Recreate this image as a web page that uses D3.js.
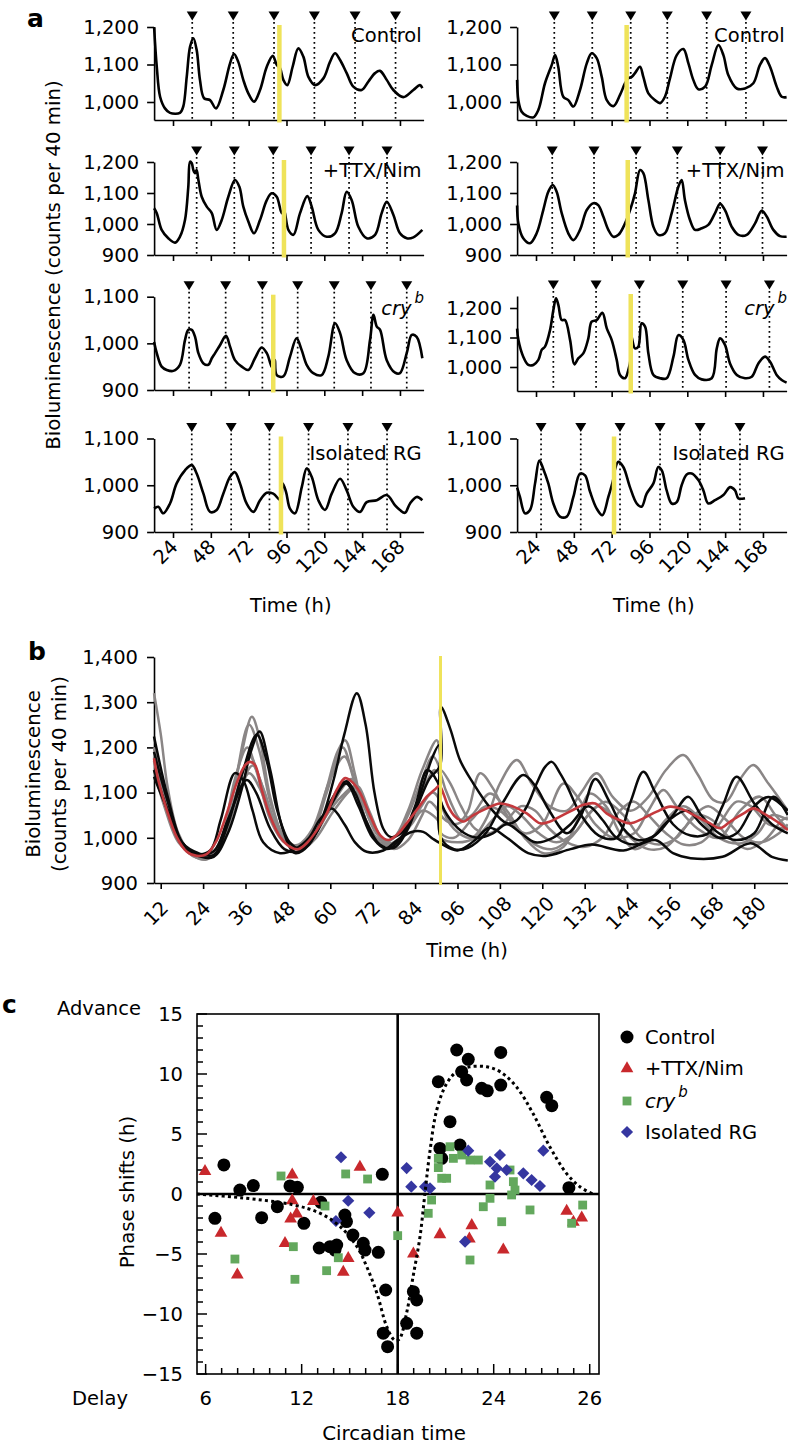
<!DOCTYPE html>
<html><head><meta charset="utf-8">
<script src="https://cdn.jsdelivr.net/npm/d3@7"></script>
<style>body{margin:0;background:#fff}svg{display:block}text{font-family:"DejaVu Sans",sans-serif;fill:#000}</style>
</head><body>
<svg id="fig" width="788" height="1445"></svg>
<script>
// ================= DATA =================
// Panel a: time axis
const timeDomainA = [12, 183];
const timeTicksA = [24, 48, 72, 96, 120, 144, 168];
// y tick labels per row
const yTicksRow1 = [1000, 1100, 1200];
const yTicksRow2 = [900, 1000, 1100, 1200];
const yTicksRow3L = [900, 1000, 1100];
const yTicksRow3R = [1000, 1100, 1200];
const yTicksRow4 = [900, 1000, 1100];
const rowLabels = ["Control", "+TTX/Nim", "cry", "Isolated RG"];

// Panel a traces [time h, counts]
const aL1 = [[12,1200],[13.7,1094],[15.8,1014],[18.9,983],[22.1,971],[28.4,971],[30.5,988],[32.7,1067],[34.8,1147],[36.9,1170],[39,1139],[41.1,1059],[43.7,1010],[47.5,1005],[51.3,983],[55.9,1032],[60.2,1103],[62.7,1128],[65.4,1107],[68.6,1059],[71.8,1023],[75.4,1001],[79.2,1032],[83.5,1094],[87.3,1123],[89.8,1099],[91.9,1090],[94,1059],[96.5,1045],[99.9,1094],[103.5,1143],[106.7,1121],[109.9,1067],[114.1,1045],[119.4,1063],[123.6,1107],[126.8,1130],[130,1112],[134.2,1077],[138.4,1041],[143.7,1032],[147.9,1054],[152.2,1077],[155.3,1083],[159.6,1059],[163.8,1032],[170.1,1013],[176.5,1032],[180.7,1045],[182.2,1037]];
const aL2 = [[12,1051],[13.7,1035],[16.8,981],[21,954],[25.3,940],[28.4,959],[31.6,1013],[33.7,1120],[34.8,1201],[35.9,1196],[36.9,1174],[38,1164],[39,1174],[40.1,1142],[42.2,1088],[45.4,1056],[48.6,1035],[51.7,981],[54.9,1013],[59.1,1088],[63.3,1142],[66.1,1120],[68.6,1056],[71.8,1008],[75.4,970],[79.2,1013],[83.5,1077],[86.6,1099],[89.8,1088],[93,1035],[94.4,1045],[97.2,981],[100.4,965],[104.6,1035],[109.2,1090],[112,1056],[116.2,981],[121.5,959],[126.8,970],[131,1035],[134.2,1104],[137.4,1077],[141.6,991],[146.9,954],[152.2,965],[156.4,1035],[159.6,1072],[163.8,1030],[168,970],[172.3,954],[176.5,957],[182.2,981]];
const aL3 = [[12,1003],[13.7,979],[16.8,950],[20,943],[24.2,941],[28.4,954],[31.6,1007],[33.7,1029],[35.9,1029],[38,1014],[40.1,979],[43.3,957],[46.4,954],[48.6,968],[50.7,979],[53.8,996],[57.6,1016],[60.2,993],[63.3,964],[67.6,950],[71.8,943],[76,968],[80.2,991],[83.5,979],[86.6,950],[88.1,946],[88.7,964],[89.8,932],[94,929],[98.2,971],[102.4,1011],[105.6,986],[108.8,954],[113,936],[118.3,932],[122.5,971],[126.8,1043],[130,1022],[134.2,964],[139.5,936],[144.8,936],[149,1007],[151.2,1061],[153.3,1036],[155.4,1029],[159.6,964],[164.9,937],[168,936],[172.3,979],[175.5,1018],[178.6,1014],[182.2,968]];
const aL4 = [[12,950],[14.7,954],[17.8,940],[22.1,961],[26.3,1004],[31.6,1032],[35.9,1043],[39,1025],[43.3,982],[47.5,943],[51.7,947],[55.9,982],[60.2,1018],[63.3,1028],[66.5,1004],[70.7,961],[75,943],[79.2,968],[83.5,984],[87.6,982],[92.3,968],[93.5,1004],[95.7,986],[98.2,950],[101.4,940],[105.7,996],[108.8,1036],[112,1018],[116.2,968],[120.4,947],[124.7,982],[130,1014],[134.2,989],[138.4,954],[142.7,943],[146.9,964],[153.3,968],[159.6,979],[164.9,957],[168,947],[171.2,941],[174.4,961],[178.6,975],[182.2,968]];
const aR1 = [[12,1059],[12.8,1005],[14.9,974],[18.1,963],[22.3,959],[25.5,979],[29.7,1050],[34,1099],[36.1,1125],[38.1,1094],[41.3,1014],[44.5,1005],[47.7,988],[51.9,1032],[56.2,1103],[59.3,1130],[62.5,1117],[65.7,1067],[68.9,1005],[73.1,989],[77.3,1019],[80.5,1050],[82.6,1063],[84.7,1067],[86.8,1077],[90,1094],[92.1,1067],[95.3,1023],[99.5,1005],[102.7,997],[105.8,1014],[109,1063],[113.3,1125],[117.5,1141],[120.7,1103],[123.8,1059],[127,1034],[131.3,1041],[135.5,1099],[139.7,1152],[142.9,1125],[146,1072],[151.4,1036],[156.6,1036],[161.9,1050],[166.1,1099],[169.3,1117],[172.5,1094],[176.7,1041],[179.9,1014],[183,1013]];
const aR2 = [[12,1060],[12.8,1002],[15.9,954],[20.2,938],[24.4,970],[28.6,1045],[31.8,1104],[34.6,1126],[37.1,1104],[40.3,1035],[44.5,970],[47.7,948],[51.9,981],[56.2,1045],[60.4,1067],[63.5,1061],[66.7,1024],[69.9,981],[73.1,959],[76.3,965],[80.5,1002],[84.1,1051],[86.8,1099],[90,1174],[92.1,1164],[95.3,1077],[98.5,991],[101.6,965],[105.8,970],[110.1,1035],[114.3,1120],[116.4,1142],[118.5,1077],[121.7,1013],[124.9,981],[129.1,986],[133.3,997],[137.6,1035],[140.8,1065],[143.9,1045],[148.2,991],[152.4,965],[157.7,965],[163,1002],[167.2,1043],[170.4,1024],[174.6,981],[178.8,961],[183,959]];
const aR3 = [[12,1130],[12.8,1092],[15.9,1035],[19.1,1007],[22.3,1007],[25.5,1024],[27.6,1058],[29.7,1069],[32.9,1125],[35,1193],[36.7,1233],[38.2,1210],[40.3,1159],[42.4,1159],[45.6,1092],[48.3,1009],[50.8,1029],[54,1046],[57.2,1097],[59.3,1154],[62.5,1159],[66.1,1184],[68.9,1131],[72,1092],[75.2,1024],[77.3,973],[80.5,962],[82.6,990],[84,1026],[84.3,1108],[86.8,1063],[88.9,1069],[91,1148],[93.2,1137],[95.3,1046],[98.5,973],[102.7,962],[106.9,962],[111.2,1035],[114.3,1108],[117.5,1092],[120.7,1024],[124.9,973],[129.1,958],[135.5,962],[138.7,1063],[140.8,1097],[143.9,1075],[147.1,1012],[151.4,973],[156.6,962],[160.9,967],[165.1,1012],[169.3,1035],[172.5,1018],[176.7,973],[179.9,956],[183,947]];
const aR4 = [[12,995],[13.8,975],[17,940],[20.2,947],[23.4,1004],[26.1,1053],[28.6,1035],[31.8,1004],[35,961],[39.2,933],[43.5,933],[47.7,975],[51.9,1025],[55.1,1021],[58.3,986],[62.5,950],[66.1,936],[69.9,975],[73.1,1014],[73.8,1030],[76.2,1050],[79.4,1039],[83.6,996],[87.9,961],[91,954],[94.2,982],[98.5,1004],[101.6,1039],[103.8,1032],[106.9,989],[110.1,961],[113.3,964],[116.4,1000],[119.6,1023],[122.8,1025],[127,1011],[130.2,989],[133.3,961],[137.6,968],[142.9,979],[147.1,996],[150.3,989],[152.4,972],[156.6,972]];
// Peak markers (h)
const mkL1 = [36.2, 62.2, 88.1, 113.7, 139.5, 165.2];
const mkL2 = [39, 62.9, 87.6, 111.6, 135.7, 159.8];
const mkL3 = [34.2, 57.4, 80.7, 103.1, 126.3, 149.6, 172.3];
const mkL4 = [35.9, 60.9, 85.2, 110, 135, 159.8];
const mkR1 = [35.6, 59.7, 84.1, 107.3, 132.3, 157.2];
const mkR2 = [34.3, 60.8, 87.5, 113.7, 140.8, 167.7];
const mkR3 = [35, 62.1, 89.6, 117.1, 144.6, 172.1];
const mkR4 = [27.2, 52.4, 77.3, 102.7, 128.1, 153.4];
// Light pulse times (h)
const pulseL = [91.5, 94.4, 87.6, 92.5];
const pulseR = [81.5, 82.2, 84.1, 73.5];

// Panel b
const timeDomainB = [10.1, 189.55];
const timeTicksB = [12, 24, 36, 48, 60, 72, 84, 96, 108, 120, 132, 144, 156, 168, 180];
const yTicksB = [900, 1000, 1100, 1200, 1300, 1400];
const pulseB = 91.2;
const traceB1 = [[10.1,1224],[14,1090],[18,990],[22,962],[27,958],[31,1010],[35,1110],[37.5,1190],[40,1235],[43,1150],[46.5,1020],[50,966],[54,985],[58,1050],[61,1130],[64,1230],[67.5,1320],[70,1250],[72.5,1100],[75,1020],[77,1002],[80,1010],[84,1060],[88,1130],[91.1,1160],[91.3,1290],[94,1240],[96.7,1172],[100.5,1120],[105,1069],[110,1032],[112.8,1039],[115.6,1069],[118.4,1120],[120.8,1157],[122.7,1168],[125,1143],[127,1115],[131,1050],[136,1005],[141,1000],[145,1080],[148.6,1146],[152,1100],[157,1030],[162,1005],[167,1010],[171,1070],[175,1135],[180,1076],[185,1030],[189.5,1010]];
const traceB2 = [[10.1,1135],[14,1060],[18,990],[22,965],[26,972],[29,1040],[33,1143],[35.5,1125],[38,1060],[41,990],[45.8,966],[50,975],[54,1000],[57,1040],[60.4,1065],[64,1030],[67,990],[70.3,969],[75,972],[79,995],[83,1013],[86.3,1013],[89,998],[91.1,988],[96,972],[101,995],[105,1022],[110,1000],[116,966],[121,960],[128,975],[134,985],[143,972],[152,995],[157,966],[162,955],[171,958],[179,988],[185,958],[189.5,950]];
const traceB3 = [[10.1,1190],[14,1080],[18,990],[23,965],[27,962],[31,1030],[35,1140],[39.2,1228],[42,1170],[45,1060],[48.5,990],[52,975],[56,1010],[60,1080],[64.5,1125],[67,1100],[70,1040],[74,985],[78,978],[82,1020],[86,1110],[89,1180],[90.8,1205],[91.3,1000],[95,975],[99,978],[104,1010],[109,1080],[114.6,1139],[118,1115],[122,1060],[127,1010],[131,1050],[135,1130],[139,1080],[143,1020],[147,995],[152,1006],[157,1050],[161.3,1091],[165,1050],[170,1010],[175,995],[180,1010],[185.4,1091],[189.5,1050]];
const traceB4 = [[10.1,1150],[14,1060],[18,985],[22,965],[27,970],[31,1040],[36.3,1128],[39,1100],[43,1020],[47,975],[51,970],[55,1000],[60,1070],[64.5,1120],[68,1070],[72,1000],[76,975],[80,1000],[84,1070],[87.5,1150],[91.1,1110],[91.3,1080],[94,1040],[98,1010],[102,1000],[106,1010],[110,1030],[114,1010],[118,990],[123,1000],[128,1030],[133,1070],[137,1040],[141,1000],[146,985],[151,1000],[156,1040],[161,1060],[165,1030],[170,1000],[175,1010],[180,1070],[184,1090],[189.5,1060]];
const traceG1 = [[10.1,1320],[12,1230],[14,1110],[17,1010],[21,962],[25,952],[29,985],[32,1080],[35,1190],[37.8,1268],[40,1220],[43,1090],[47,1000],[51,980],[55,1010],[59,1110],[62,1190],[64.2,1216],[67,1140],[70,1040],[74,990],[78,1000],[82,1060],[86,1150],[90.1,1216],[91.1,1180],[91.3,1080],[95,1020],[100,1000],[104,1040],[108,1120],[112.8,1172],[117,1120],[122,1070],[127,1060],[131,1100],[135.4,1143],[140,1090],[145,1060],[150,1090],[155,1150],[159.9,1183],[164,1140],[168.4,1084],[172,1080],[176,1130],[179.7,1161],[184,1120],[189.5,1060]];
const traceG2 = [[10.1,1200],[13,1100],[17,995],[21,965],[25,955],[29,990],[33,1120],[37,1250],[40,1190],[43,1080],[47,1000],[51,982],[55,1010],[59,1100],[63.5,1200],[66,1150],[70,1040],[74,995],[78,1000],[82,1050],[86,1130],[89,1180],[91.1,1150],[91.3,1140],[94,1080],[97,1040],[99,1060],[102.4,1143],[106,1110],[110,1050],[115,1010],[120,1030],[126,1120],[130,1090],[135,1030],[140,1000],[146,1010],[150,1060],[154.3,1106],[158,1070],[164,1020],[170,1000],[176,1060],[181.6,1091],[186,1050],[189.5,1020]];
const traceG3 = [[10.1,1150],[13,1070],[17,990],[21,965],[25,960],[29,990],[33,1090],[37.3,1179],[40,1130],[44,1040],[48,985],[52,980],[56,1010],[61,1080],[66,1130],[69,1080],[73,1010],[77,985],[81,1010],[85,1060],[89,1100],[91.1,1080],[91.3,1050],[95,1030],[100,1050],[105.2,1098],[110,1060],[115,1000],[120.3,966],[126,980],[130,1040],[133.5,1098],[138,1070],[142,1010],[146,975],[150,990],[155,1040],[160,1070],[165,1040],[170,1000],[176.4,988],[181,1010],[185,1050],[189.5,1040]];
const traceG4 = [[10.1,1170],[13,1080],[17,995],[21,968],[25,962],[29,985],[33,1070],[37,1143],[40,1110],[44,1030],[48,985],[52,975],[56,1000],[61,1060],[67,1110],[70,1070],[74,1000],[78,975],[82,995],[86,1050],[88,1080],[91.1,1050],[91.3,1010],[95,1000],[100,1040],[104,1070],[108,1060],[113,1020],[118,985],[123,975],[128,1000],[133,1050],[136,1070],[141,1040],[145,1000],[150,975],[155,980],[160,1020],[164,1050],[168,1040],[173,1000],[178,975],[183,995],[188,1040],[189.5,1045]];
const traceG5 = [[10.1,1180],[13,1090],[17,1000],[21,965],[25,958],[29,990],[34,1100],[38,1160],[41,1110],[45,1020],[49,980],[53,985],[58,1040],[63,1090],[67.5,1115],[71,1060],[75,995],[79,990],[83,1040],[87,1120],[89.5,1150],[91.1,1140],[91.3,1150],[94,1120],[97,1070],[101,1020],[105,1010],[109,1030],[114,1070],[118,1060],[122,1020],[127,990],[132,980],[137,1000],[142,1060],[146,1080],[150,1050],[155,1010],[160,985],[165,990],[170,1030],[175,1080],[179,1070],[184,1030],[189.5,1020]];
const traceG6 = [[10.1,1200],[13,1100],[17,1000],[21,960],[25,955],[29,995],[33,1130],[36.5,1200],[39,1150],[43,1040],[47,990],[51,985],[55,1020],[60,1130],[64,1180],[67,1120],[71,1020],[75,985],[79,995],[83,1030],[86,1060],[89,1050],[91.1,1030],[91.3,1000],[96,990],[101,1000],[106,1040],[110,1070],[114,1050],[119,1010],[124,990],[129,1010],[134,1060],[138,1080],[143,1050],[148,1000],[153,985],[158,1000],[163,1050],[167,1070],[172,1040],[177,1000],[182,990],[187,1010],[189.5,1030]];
const traceMean = [[10.1,1176],[11.3,1128],[13.7,1062],[16.5,1002],[19.4,969],[22.2,960],[25,964],[27.9,995],[30.7,1054],[33.5,1121],[35.9,1161],[37.3,1168],[38.7,1161],[40.6,1106],[43,1047],[45.8,1002],[48.6,980],[51,975],[53.3,988],[56.2,1017],[59,1054],[61.8,1106],[64.2,1132],[66.1,1124],[68.4,1100],[71.2,1050],[74.1,1006],[76.4,995],[78.8,1006],[81.6,1032],[84.5,1062],[87.3,1091],[89.6,1107],[90.9,1115],[92,1098],[93.4,1069],[95.3,1047],[97.7,1036],[100.5,1050],[104.3,1065],[108,1076],[111.8,1069],[115.6,1054],[119.4,1032],[122.2,1036],[125,1047],[128.8,1062],[131.6,1073],[135,1076],[138.2,1054],[142,1039],[144.8,1032],[148.6,1043],[152.4,1058],[156.2,1069],[160,1062],[163.7,1047],[167.5,1032],[170.3,1021],[173.2,1036],[177,1054],[179.8,1065],[182.6,1054],[186.4,1036],[189.5,1017]];
const blackTraces = [traceB1, traceB2, traceB3, traceB4];
const grayTraces = [traceG1, traceG2, traceG3, traceG4, traceG5, traceG6];

// Panel c: [circadian time, phase shift h]
const ctDomain = [5.46, 30.58];
const ctTicks = [6, 12, 18, 24, 30];
const ctTickLabels = ["6", "12", "18", "24", "26"];
const psTicks = [-15, -10, -5, 0, 5, 10, 15];
const ctrlPts = [[6.58,-2.03],[7.14,2.42],[8.14,0.33],[8.98,0.7],[9.5,-1.97],[10.48,-1.06],[11.27,0.67],[11.73,0.56],[12.14,-2.44],[13.2,-0.69],[13.1,-4.5],[13.77,-4.39],[14.19,-4.25],[14.08,-4.67],[14.7,-1.75],[14.8,-2.3],[15.2,-3.42],[15.85,-4.11],[15.96,-4.67],[16.79,-4.86],[17.04,1.64],[17.25,-8],[17.1,-11.6],[17.37,-12.72],[18.56,-10.78],[19.19,-11.6],[18.98,-8.14],[19.19,-8.83],[20.64,3.8],[20.75,2.97],[21.89,4.08],[21.27,6.03],[20.54,9.36],[21.69,12],[22.41,11.22],[22.0,10.19],[22.31,9.5],[23.25,8.81],[23.6,8.6],[24.44,9.08],[24.44,11.8],[27.31,8.06],[27.63,7.36],[28.7,0.53]];
const ttxPts = [[5.96,1.94],[6.96,-3.22],[7.98,-6.69],[11.41,1.64],[11.41,-0.5],[11.31,-2.03],[11.69,-1.61],[10.96,-4.06],[12.73,-0.56],[15.64,2.28],[14.91,-5.31],[14.6,-6.47],[18.0,-1.53],[18.98,-4.94],[20.64,-3.33],[22.63,-2.58],[22.48,-3.69],[24.6,-4.61],[28.56,-1.39],[28.98,-2.3],[29.5,-1.94]];
const cryPts = [[10.71,1.5],[14.75,1.67],[16.12,1.25],[13.46,-1.0],[7.83,-5.42],[11.48,-4.39],[11.58,-7.11],[13.56,-6.39],[14.29,-5.31],[18.0,-3.47],[20.12,-0.5],[19.91,-1.61],[20.54,2.97],[20.54,2.2],[20.75,1.31],[21.06,1.31],[21.27,3.94],[21.48,2.97],[22.0,3.25],[22.52,2.83],[23.04,2.83],[23.77,0.75],[23.77,-0.36],[23.35,-1.06],[24.5,-2.31],[22.52,-5.5],[25.02,2.0],[25.23,1.03],[25.33,0.33],[25.12,-0.08],[26.27,-1.33],[28.87,-2.44],[29.56,-0.92]];
const rgPts = [[14.46,3.06],[14.91,-0.56],[14.14,-2.25],[16.23,-1.56],[18.56,2.16],[18.85,0.61],[19.71,0.61],[20.02,0.47],[22.21,-3.97],[22.41,3.61],[23.77,2.69],[24.39,3.25],[24.19,2.14],[24.08,1.44],[24.81,2.0],[25.85,1.72],[26.37,1.17],[26.89,0.67],[27.1,3.61]];
const prcFit = [[5.46,0],[8.14,-0.3],[11.46,-0.9],[13.14,-1.6],[14.39,-2.7],[15.46,-4.4],[16.08,-6.1],[16.71,-8.3],[17.33,-11.1],[17.83,-12.2],[18.1,-12.1],[18.56,-9.9],[18.96,-6.9],[19.39,-3.6],[19.7,0],[20.0,3.4],[20.44,7],[21.06,9.2],[21.69,10.2],[22.5,10.6],[23.56,10.6],[24.39,10.2],[25.44,8.9],[26.46,6.7],[27.52,3.9],[28.56,1.7],[29.39,0.6],[30.2,0]];
const legendLabels = ["Control", "+TTX/Nim", "cry", "Isolated RG"];

// ================= DRAW =================
const svg = d3.select("#fig");
const FS = 19.5;
const YEL = "#efe35a";

function styleAxis(sel) {
  sel.attr("font-family", null).attr("font-size", null);
  sel.select(".domain").attr("stroke", "#000").attr("stroke-width", 1.6);
  sel.selectAll(".tick line").attr("stroke", "#000").attr("stroke-width", 1.6);
  sel.selectAll(".tick text").attr("font-size", FS).attr("fill", "#000");
}

// Panel a
const panelsA = [
  {col:0, top:27, bottom:120, dom:[952,1200], ticks:yTicksRow1, data:aL1, mk:mkL1, pulse:pulseL[0], label:0, ly:41.5},
  {col:0, top:162, bottom:255, dom:[900,1200], ticks:yTicksRow2, data:aL2, mk:mkL2, pulse:pulseL[1], label:1, ly:177},
  {col:0, top:296.7, bottom:390, dom:[900,1100], ticks:yTicksRow3L, data:aL3, mk:mkL3, pulse:pulseL[2], label:2, ly:315},
  {col:0, top:438.5, bottom:532, dom:[900,1100], ticks:yTicksRow4, data:aL4, mk:mkL4, pulse:pulseL[3], label:3, ly:460, last:true},
  {col:1, top:27, bottom:120, dom:[952,1200], ticks:yTicksRow1, data:aR1, mk:mkR1, pulse:pulseR[0], label:0, ly:41.5},
  {col:1, top:162, bottom:255, dom:[900,1200], ticks:yTicksRow2, data:aR2, mk:mkR2, pulse:pulseR[1], label:1, ly:177},
  {col:1, top:296, bottom:391, dom:[918.6,1240.7], ticks:yTicksRow3R, data:aR3, mk:mkR3, pulse:pulseR[2], label:2, ly:315},
  {col:1, top:438.5, bottom:532, dom:[900,1100], ticks:yTicksRow4, data:aR4, mk:mkR4, pulse:pulseR[3], label:3, ly:460, last:true},
];
panelsA.forEach(p => {
  const x = d3.scaleLinear().domain(timeDomainA).range(p.col === 0 ? [154.1, 423.6] : [517.1, 786.6]);
  const y = d3.scaleLinear().domain(p.dom).range([p.bottom, p.top]);
  const g = svg.append("g");
  const mY = p.top - 11;
  g.selectAll("line.dl").data(p.mk).join("line")
    .attr("x1", d => x(d)).attr("x2", d => x(d)).attr("y1", mY + 6).attr("y2", p.bottom)
    .attr("stroke", "#000").attr("stroke-width", 1.7).attr("stroke-dasharray", "1.7,3.3");
  g.selectAll("path.tri").data(p.mk).join("path")
    .attr("d", d => `M${x(d)-5.5},${mY-4.5}L${x(d)+5.5},${mY-4.5}L${x(d)},${mY+4.5}Z`).attr("fill", "#000");
  const ax = g.append("g").attr("transform", `translate(${x.range()[0]},0)`)
    .call(d3.axisLeft(y).tickValues(p.ticks).tickFormat(d3.format(",")).tickSize(7).tickSizeOuter(0).tickPadding(8));
  styleAxis(ax);
  const bx = g.append("g").attr("transform", `translate(0,${p.bottom})`)
    .call(d3.axisBottom(x).tickValues(timeTicksA).tickFormat("").tickSize(6).tickSizeOuter(0));
  styleAxis(bx);
  g.append("path").datum(p.data)
    .attr("d", d3.line().x(d => x(d[0])).y(d => y(d[1])).curve(d3.curveCatmullRom.alpha(0.5)))
    .attr("fill", "none").attr("stroke", "#000").attr("stroke-width", 2.6).attr("stroke-linejoin", "round");
  g.append("line").attr("x1", x(p.pulse)).attr("x2", x(p.pulse)).attr("y1", p.top - 2).attr("y2", p.bottom + 2.5)
    .attr("stroke", YEL).attr("stroke-width", 4.5);
  const xr = x.range()[1];
  if (p.label === 2) {
    const t = g.append("text").attr("x", xr + 0.5).attr("y", p.ly).attr("font-size", FS).attr("text-anchor", "end").attr("font-style", "italic");
    t.append("tspan").text(rowLabels[2]);
    t.append("tspan").attr("font-size", 15).attr("dy", -12).attr("dx", 3).text("b");
  } else {
    g.append("text").attr("x", xr - 2).attr("y", p.ly).attr("font-size", FS).attr("text-anchor", "end").text(rowLabels[p.label]);
  }
  if (p.last) {
    g.selectAll("text.xl").data(timeTicksA).join("text")
      .attr("transform", d => `translate(${x(d)+6},548) rotate(-45)`)
      .attr("text-anchor", "end").attr("font-size", FS).text(d => d);
    g.append("text").attr("x", (x.range()[0] + x.range()[1]) / 2 + 2).attr("y", 612).attr("text-anchor", "middle").attr("font-size", FS).text("Time (h)");
  }
});
svg.append("text").attr("transform", "translate(60,265) rotate(-90)").attr("text-anchor", "middle").attr("font-size", 19.8).text("Bioluminescence (counts per 40 min)");
svg.append("text").attr("x", 27).attr("y", 27).attr("font-size", 25).attr("font-weight", "bold").text("a");

// Panel b
{
  const x = d3.scaleLinear().domain(timeDomainB).range([154, 788]);
  const y = d3.scaleLinear().domain([900, 1400]).range([883, 657]);
  const g = svg.append("g");
  const ax = g.append("g").attr("transform", "translate(154,0)")
    .call(d3.axisLeft(y).tickValues(yTicksB).tickFormat(d3.format(",")).tickSize(7).tickSizeOuter(0).tickPadding(9));
  styleAxis(ax);
  const bx = g.append("g").attr("transform", "translate(0,883)")
    .call(d3.axisBottom(x).tickValues(timeTicksB).tickFormat("").tickSize(6).tickSizeOuter(0));
  styleAxis(bx);
  const line = d3.line().x(d => x(d[0])).y(d => y(d[1])).curve(d3.curveCatmullRom.alpha(0.5));
  g.selectAll("path.gr").data(grayTraces).join("path").attr("d", line)
    .attr("fill", "none").attr("stroke", "#8a8686").attr("stroke-width", 2.5).attr("stroke-linejoin", "round");
  g.selectAll("path.bk").data(blackTraces).join("path").attr("d", line)
    .attr("fill", "none").attr("stroke", "#0a0a0a").attr("stroke-width", 2.5).attr("stroke-linejoin", "round");
  g.append("path").datum(traceMean).attr("d", line)
    .attr("fill", "none").attr("stroke", "#c4393d").attr("stroke-width", 2.6);
  g.append("line").attr("x1", x(pulseB)).attr("x2", x(pulseB)).attr("y1", 656).attr("y2", 885)
    .attr("stroke", YEL).attr("stroke-width", 3);
  g.selectAll("text.xl").data(timeTicksB).join("text")
    .attr("transform", d => `translate(${x(d)-5},913) rotate(-45)`)
    .attr("text-anchor", "middle").attr("dy", "0.36em").attr("font-size", FS).text(d => d);
  g.append("text").attr("x", 467).attr("y", 957).attr("text-anchor", "middle").attr("font-size", FS).text("Time (h)");
  g.append("text").attr("transform", "translate(40,774) rotate(-90)").attr("text-anchor", "middle").attr("font-size", 19.8).text("Bioluminescence");
  g.append("text").attr("transform", "translate(66,774) rotate(-90)").attr("text-anchor", "middle").attr("font-size", 19.8).text("(counts per 40 min)");
  svg.append("text").attr("x", 28).attr("y", 660).attr("font-size", 25).attr("font-weight", "bold").text("b");
}

// Panel c
{
  const x = d3.scaleLinear().domain(ctDomain).range([197, 599]);
  const y = d3.scaleLinear().domain([-15, 15]).range([1374, 1014]);
  const g = svg.append("g");
  const [x0, x1] = x.range(), [y0, y1] = y.range();
  const yMinor = d3.range(-15, 16, 1);
  g.selectAll("line.yt").data(yMinor).join("line")
    .attr("x1", x0).attr("x2", d => x0 + (d % 5 === 0 ? 10 : 6)).attr("y1", d => y(d)).attr("y2", d => y(d))
    .attr("stroke", "#000").attr("stroke-width", 1.5);
  const xMinor = d3.range(6, 31, 1);
  g.selectAll("line.xt").data(xMinor).join("line")
    .attr("x1", d => x(d)).attr("x2", d => x(d)).attr("y1", y0).attr("y2", d => y0 - (ctTicks.includes(d) ? 10 : 6))
    .attr("stroke", "#000").attr("stroke-width", 1.5);
  g.append("rect").attr("x", x0).attr("y", y1).attr("width", x1 - x0).attr("height", y0 - y1)
    .attr("fill", "none").attr("stroke", "#000").attr("stroke-width", 1.6);
  g.append("line").attr("x1", x0).attr("x2", x1).attr("y1", y(0)).attr("y2", y(0)).attr("stroke", "#000").attr("stroke-width", 2.6);
  g.append("line").attr("x1", x(18)).attr("x2", x(18)).attr("y1", y1).attr("y2", y0).attr("stroke", "#000").attr("stroke-width", 2.6);
  g.selectAll("text.yl").data(psTicks).join("text").attr("x", 183).attr("y", d => y(d)).attr("dy", "0.36em")
    .attr("text-anchor", "end").attr("font-size", FS).text(d => d < 0 ? "\u2212" + Math.abs(d) : d);
  g.selectAll("text.xl").data(ctTicks).join("text").attr("x", d => x(d)).attr("y", 1405)
    .attr("text-anchor", "middle").attr("font-size", FS).text((d, i) => ctTickLabels[i]);
  g.selectAll("circle.ctrl").data(ctrlPts).join("circle").attr("cx", d => x(d[0])).attr("cy", d => y(d[1])).attr("r", 6.5).attr("fill", "#000");
  const tri = d3.symbol(d3.symbolTriangle, 70)();
  const sq = d3.symbol(d3.symbolSquare, 78)();
  const dia = d3.symbol(d3.symbolSquare, 74)();
  g.selectAll("path.ttx").data(ttxPts).join("path").attr("d", tri).attr("transform", d => `translate(${x(d[0])},${y(d[1])+0.5})`).attr("fill", "#c8282c");
  g.selectAll("path.cry").data(cryPts).join("path").attr("d", sq).attr("transform", d => `translate(${x(d[0])},${y(d[1])})`).attr("fill", "#63a85d");
  g.selectAll("path.rg").data(rgPts).join("path").attr("d", dia).attr("transform", d => `translate(${x(d[0])},${y(d[1])}) rotate(45)`).attr("fill", "#3536a0");
  g.append("path").datum(prcFit).attr("d", d3.line().x(d => x(d[0])).y(d => y(d[1])).curve(d3.curveCatmullRom.alpha(0.5)))
    .attr("fill", "none").attr("stroke", "#000").attr("stroke-width", 3).attr("stroke-dasharray", "3,3.2");
  g.append("text").attr("x", 57).attr("y", 1015).attr("font-size", FS).text("Advance");
  g.append("text").attr("x", 72).attr("y", 1405).attr("font-size", FS).text("Delay");
  g.append("text").attr("x", 394).attr("y", 1440).attr("text-anchor", "middle").attr("font-size", 19.8).text("Circadian time");
  g.append("text").attr("transform", "translate(134,1192) rotate(-90)").attr("text-anchor", "middle").attr("font-size", 19.8).text("Phase shifts (h)");
  svg.append("text").attr("x", 2).attr("y", 1013).attr("font-size", 25).attr("font-weight", "bold").text("c");
  const ly = [1037, 1068, 1101, 1132];
  const lg = g.append("g");
  lg.append("circle").attr("cx", 627).attr("cy", ly[0]).attr("r", 6.5).attr("fill", "#000");
  lg.append("path").attr("d", tri).attr("transform", `translate(627,${ly[1]+0.5})`).attr("fill", "#c8282c");
  lg.append("path").attr("d", sq).attr("transform", `translate(627,${ly[2]})`).attr("fill", "#63a85d");
  lg.append("path").attr("d", dia).attr("transform", `translate(627,${ly[3]}) rotate(45)`).attr("fill", "#3536a0");
  legendLabels.forEach((s, i) => {
    const t = lg.append("text").attr("x", 645).attr("y", ly[i]).attr("dy", "0.36em").attr("font-size", FS);
    if (i === 2) {
      t.append("tspan").attr("font-style", "italic").text(s);
      t.append("tspan").attr("font-style", "italic").attr("font-size", 15).attr("dy", -11).attr("dx", 3).text("b");
    } else t.text(s);
  });
}
</script>
</body></html>
